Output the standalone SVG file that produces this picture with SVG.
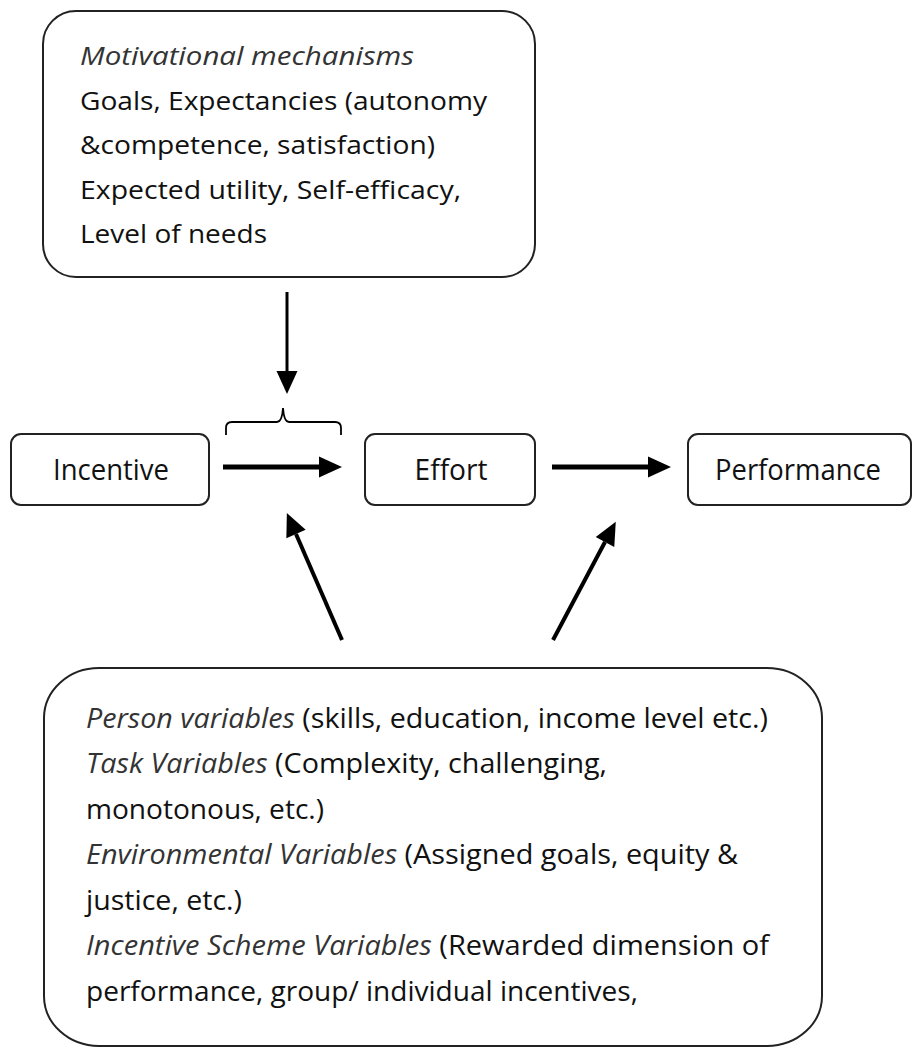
<svg xmlns="http://www.w3.org/2000/svg" width="913" height="1048" viewBox="0 0 913 1048">
<style>
.box{fill:#fff;stroke:#222;stroke-width:2}
.t{font-family:"Open Sans","Liberation Sans",sans-serif;font-size:26px;fill:#111}
.tb{font-size:27px}
.it{font-style:italic;fill:#333}
.lbl{font-family:"Open Sans","Liberation Sans",sans-serif;font-size:30px;fill:#111;text-anchor:middle}
.sh{stroke:#000;fill:none}
</style>
<defs>
<marker id="head" markerUnits="userSpaceOnUse" markerWidth="23" markerHeight="21" refX="0" refY="10.5" orient="auto" overflow="visible">
<path d="M0,0 L23,10.5 L0,21 Z" fill="#000"/>
</marker>
</defs>
<rect width="913" height="1048" fill="#fff"/>
<g id="motivational">
<rect class="box" x="43" y="11" width="492" height="266" rx="33" ry="33"/>
<text class="t" x="80" y="65" textLength="334" lengthAdjust="spacingAndGlyphs"><tspan class="it">Motivational mechanisms</tspan></text>
<text class="t" x="80" y="110" textLength="407" lengthAdjust="spacingAndGlyphs">Goals, Expectancies (autonomy</text>
<text class="t" x="80" y="154" textLength="355" lengthAdjust="spacingAndGlyphs">&amp;competence, satisfaction)</text>
<text class="t" x="80" y="199" textLength="381" lengthAdjust="spacingAndGlyphs">Expected utility, Self-efficacy,</text>
<text class="t" x="80" y="243" textLength="187" lengthAdjust="spacingAndGlyphs">Level of needs</text>
</g>
<g id="incentive">
<rect class="box" x="11" y="434" width="198" height="71" rx="10" ry="10"/>
<text class="lbl" x="111" y="480" textLength="116" lengthAdjust="spacingAndGlyphs">Incentive</text>
</g>
<g id="effort">
<rect class="box" x="365" y="434" width="170" height="71" rx="10" ry="10"/>
<text class="lbl" x="451" y="480" textLength="73" lengthAdjust="spacingAndGlyphs">Effort</text>
</g>
<g id="performance">
<rect class="box" x="688" y="434" width="223" height="71" rx="10" ry="10"/>
<text class="lbl" x="798" y="480" textLength="166" lengthAdjust="spacingAndGlyphs">Performance</text>
</g>
<g id="variables">
<rect class="box" x="44" y="668" width="778" height="378" rx="55" ry="50"/>
<text class="t tb" x="86" y="728" textLength="682" lengthAdjust="spacingAndGlyphs"><tspan class="it">Person variables</tspan> (skills, education, income level etc.)</text>
<text class="t tb" x="86" y="773" textLength="521" lengthAdjust="spacingAndGlyphs"><tspan class="it">Task Variables</tspan> (Complexity, challenging,</text>
<text class="t tb" x="86" y="819" textLength="238" lengthAdjust="spacingAndGlyphs">monotonous, etc.)</text>
<text class="t tb" x="86" y="864" textLength="652" lengthAdjust="spacingAndGlyphs"><tspan class="it">Environmental Variables</tspan> (Assigned goals, equity &amp;</text>
<text class="t tb" x="86" y="910" textLength="156" lengthAdjust="spacingAndGlyphs">justice, etc.)</text>
<text class="t tb" x="86" y="955" textLength="683" lengthAdjust="spacingAndGlyphs"><tspan class="it">Incentive Scheme Variables</tspan> (Rewarded dimension of</text>
<text class="t tb" x="86" y="1001" textLength="552" lengthAdjust="spacingAndGlyphs">performance, group/ individual incentives,</text>
</g>
<g id="connectors">
<line class="sh" x1="287" y1="292" x2="287" y2="371" stroke-width="3" marker-end="url(#head)"/>
<path class="sh" stroke-width="1.8" d="M226,435 L226,428 Q226,422 232,422 L277,422 Q282,422 283,408 Q284,422 289,422 L335,422 Q341,422 341,428 L341,435"/>
<line class="sh" x1="223" y1="467" x2="319" y2="467" stroke-width="5" marker-end="url(#head)"/>
<line class="sh" x1="552" y1="467" x2="648" y2="467" stroke-width="5" marker-end="url(#head)"/>
<line class="sh" x1="342" y1="640" x2="296" y2="534" stroke-width="4" marker-end="url(#head)"/>
<line class="sh" x1="553" y1="640" x2="605" y2="542" stroke-width="4" marker-end="url(#head)"/>
</g>
</svg>
